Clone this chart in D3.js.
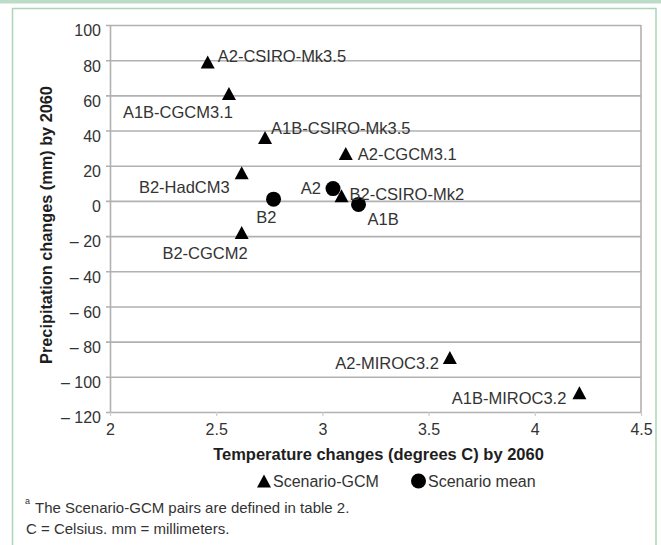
<!DOCTYPE html>
<html>
<head>
<meta charset="utf-8">
<script src="https://cdn.jsdelivr.net/npm/d3@7"></script>
<style>
    body { margin: 0; background: #fff; }
    svg { display: block; font-family: "Liberation Sans", Arial, Helvetica, sans-serif; }
</style>
</head>
<body>
<div id="chart"></div>
<script>
// Scenario-GCM pairs (triangles)
const gcmNames = ["A2-CSIRO-Mk3.5", "A1B-CGCM3.1", "A1B-CSIRO-Mk3.5", "B2-HadCM3", "A2-CGCM3.1",
    "B2-CSIRO-Mk2", "B2-CGCM2", "A2-MIROC3.2", "A1B-MIROC3.2"];
const gcmTemp = [2.46, 2.56, 2.73, 2.62, 3.11, 3.09, 2.62, 3.60, 4.21];
const gcmPrecip = [79, 61, 36, 16, 27, 3, -18, -89, -109];

// Scenario means (circles)
const meanNames = ["A2", "B2", "A1B"];
const meanTemp = [3.05, 2.77, 3.17];
const meanPrecip = [7, 1, -2];

const xTicks = [2, 2.5, 3, 3.5, 4, 4.5];
const xTickLabels = ["2", "2.5", "3", "3.5", "4", "4.5"];
const yTicks = [100, 80, 60, 40, 20, 0, -20, -40, -60, -80, -100, -120];
const yTickLabels = ["100", "80", "60", "40", "20", "0", "\u2013 20", "\u2013 40", "\u2013 60",
    "\u2013 80", "\u2013 100", "\u2013 120"];

const legendLabels = ["Scenario-GCM", "Scenario mean"];
const xTitle = "Temperature changes (degrees C) by 2060";
const yTitle = "Precipitation changes (mm) by 2060";
const notes = ["The Scenario-GCM pairs are defined in table 2.", "C = Celsius. mm = millimeters."];

// where each point label sits relative to its marker: [anchor, dx, dy]
const labelPlacement = {
    "A2-CSIRO-Mk3.5": ["start", 10, -6],
    "A1B-CGCM3.1": ["end", 4, 18],
    "A1B-CSIRO-Mk3.5": ["start", 6, -10],
    "B2-HadCM3": ["end", -12, 14],
    "A2-CGCM3.1": ["start", 12, 1],
    "B2-CSIRO-Mk2": ["start", 8, -2],
    "B2-CGCM2": ["end", 6, 20],
    "A2-MIROC3.2": ["end", -11, 6],
    "A1B-MIROC3.2": ["end", -13, 5],
    "A2": ["end", -12, -1],
    "B2": ["end", 3, 18],
    "A1B": ["start", 9, 15]
};

const width = 661, height = 545;
const plot = { left: 110, right: 641, top: 25, bottom: 412 };
const gridColor = "#b1b1b1";
const textColor = "#333";

const svg = d3.select("#chart")
    .append("svg")
    .attr("width", width)
    .attr("height", height)
;

// green frame of the page
svg.append("rect")
    .attr("x", 0).attr("y", 0)
    .attr("width", width).attr("height", 3.5)
    .style("fill", "#bddcc7")
;
svg.append("path")
    .attr("d", "M12.5,545 V8.5 H656 V545")
    .style("fill", "none")
    .style("stroke", "#a9d6b6")
    .style("stroke-width", 1.5)
;

const x = d3.scaleLinear().domain([2, 4.5]).range([plot.left, plot.right]);
const y = d3.scaleLinear().domain([-120, 100]).range([plot.bottom, plot.top]);

// horizontal gridlines (with a little outward tick)
const grid = svg.append("g")
    .attr("transform", "translate(" + (plot.left - 4) + ",0)")
    .call(d3.axisLeft(y).tickValues(yTicks).tickSize(-(plot.right - plot.left + 4)).tickFormat(""))
;
grid.select(".domain").remove();
grid.selectAll("line")
    .style("stroke", gridColor)
    .style("stroke-width", 1.6)
;

// y tick labels
const yAxis = svg.append("g")
    .attr("transform", "translate(" + plot.left + ",0)")
    .call(d3.axisLeft(y).tickValues(yTicks).tickSize(0).tickPadding(9)
        .tickFormat((d, i) => yTickLabels[i]))
;
yAxis.select(".domain")
    .style("stroke", gridColor)
    .style("stroke-width", 1.6)
;
yAxis.selectAll("text")
    .attr("dy", "0.68em")
    .style("font-size", "16px")
    .style("fill", textColor)
;

// right border of the plot area
svg.append("line")
    .attr("x1", plot.right).attr("x2", plot.right)
    .attr("y1", y(100)).attr("y2", y(-120))
    .style("stroke", gridColor)
    .style("stroke-width", 1.6)
;

// x axis
const xAxis = svg.append("g")
    .attr("transform", "translate(0," + plot.bottom + ")")
    .call(d3.axisBottom(x).tickValues(xTicks).tickSize(4).tickPadding(8)
        .tickFormat((d, i) => xTickLabels[i]))
;
xAxis.select(".domain").remove();
xAxis.selectAll("line")
    .style("stroke", "#ccc")
    .style("stroke-width", 1.2)
;
xAxis.selectAll("text")
    .style("font-size", "16px")
    .style("fill", textColor)
;

// axis titles
svg.append("text")
    .attr("x", (plot.left + plot.right) / 2 + 3)
    .attr("y", 460)
    .attr("text-anchor", "middle")
    .style("font-size", "16.5px")
    .style("font-weight", "bold")
    .style("fill", "#1e1e1e")
    .text(xTitle)
;
svg.append("text")
    .attr("transform", "translate(52,225) rotate(-90)")
    .attr("text-anchor", "middle")
    .style("font-size", "16.3px")
    .style("font-weight", "bold")
    .style("fill", "#1e1e1e")
    .text(yTitle)
;

// marker shapes, centred on their bounding box like the original
const triangle = "M0,-6.5L7,6.5L-7,6.5Z";
const circleR = 7.5;

const gcm = gcmNames.map((n, i) => ({ name: n, t: gcmTemp[i], p: gcmPrecip[i] }));
const means = meanNames.map((n, i) => ({ name: n, t: meanTemp[i], p: meanPrecip[i] }));

const marks = svg.append("g");

marks.selectAll("path.gcm")
    .data(gcm)
    .enter()
    .append("path")
    .attr("class", "gcm")
    .attr("d", triangle)
    .attr("transform", d => "translate(" + x(d.t) + "," + y(d.p) + ")")
    .style("fill", "#000")
;

marks.selectAll("circle.mean")
    .data(means)
    .enter()
    .append("circle")
    .attr("class", "mean")
    .attr("r", circleR)
    .attr("cx", d => x(d.t))
    .attr("cy", d => y(d.p))
    .style("fill", "#000")
;

// point labels
svg.append("g")
    .selectAll("text")
    .data(gcm.concat(means))
    .enter()
    .append("text")
    .attr("x", d => x(d.t) + labelPlacement[d.name][1])
    .attr("y", d => y(d.p) + labelPlacement[d.name][2])
    .attr("dy", "0.36em")
    .attr("text-anchor", d => labelPlacement[d.name][0])
    .style("font-size", "16.5px")
    .style("fill", textColor)
    .text(d => d.name)
;

// legend
const legendY = 481;
svg.append("path")
    .attr("d", triangle)
    .attr("transform", "translate(264," + legendY + ")")
    .style("fill", "#000")
;
svg.append("text")
    .attr("x", 273).attr("y", legendY).attr("dy", "0.36em")
    .style("font-size", "16px")
    .style("fill", textColor)
    .text(legendLabels[0])
;
svg.append("circle")
    .attr("cx", 418.5).attr("cy", legendY)
    .attr("r", circleR)
    .style("fill", "#000")
;
svg.append("text")
    .attr("x", 428).attr("y", legendY).attr("dy", "0.36em")
    .style("font-size", "16px")
    .style("fill", textColor)
    .text(legendLabels[1])
;

// footnotes
svg.append("text")
    .attr("x", 25).attr("y", 504)
    .style("font-size", "9px")
    .style("fill", textColor)
    .text("a")
;
svg.append("text")
    .attr("x", 35).attr("y", 512.5)
    .style("font-size", "15px")
    .style("fill", textColor)
    .text(notes[0])
;
svg.append("text")
    .attr("x", 26).attr("y", 533.5)
    .style("font-size", "15px")
    .style("fill", textColor)
    .text(notes[1])
;
</script>
</body>
</html>
